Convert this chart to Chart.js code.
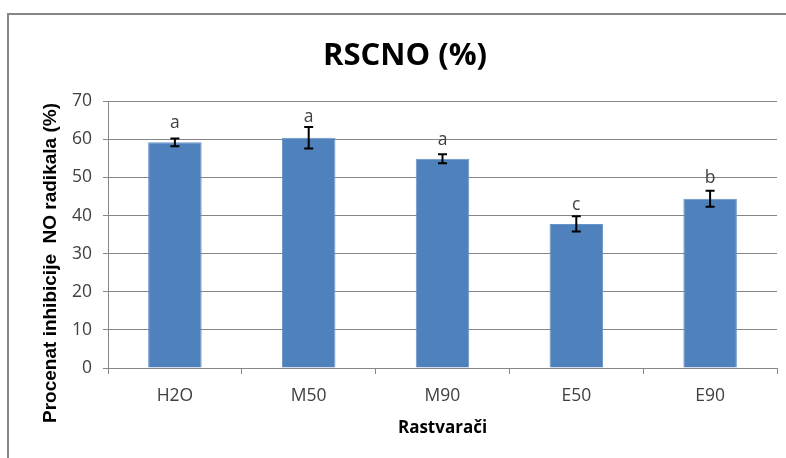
<!DOCTYPE html>
<html>
<head>
<meta charset="utf-8">
<script src="https://cdn.jsdelivr.net/npm/chart.js@4.4.0/dist/chart.umd.min.js"></script>
<style>
  html, body { margin: 0; padding: 0; background: #fff; }
</style>
</head>
<body>
<canvas id="chart" width="786" height="458"></canvas>
<script>
const categories = ['H2O', 'M50', 'M90', 'E50', 'E90'];
const inhibition = [59.2, 60.4, 54.9, 37.8, 44.4];
const errors = [1.0, 2.8, 1.2, 2.0, 2.1];
const groupLetters = ['a', 'a', 'a', 'c', 'b'];
const letterLevels = [63.0, 64.5, 58.5, 41.5, 48.5];
const yTicks = [0, 10, 20, 30, 40, 50, 60, 70];

const GRID = '#868686';
const TEXT = '#404040';
const BODY_FONT = '"Open Sans", sans-serif';

// gray frame around the whole chart (right and bottom sides fall outside the picture)
const framePlugin = {
  id: 'frame',
  beforeDraw(chart) {
    const ctx = chart.ctx;
    ctx.save();
    ctx.strokeStyle = GRID;
    ctx.lineWidth = 2;
    ctx.strokeRect(8, 14, chart.width + 20, chart.height + 20);
    ctx.restore();
  }
};

const errorBarPlugin = {
  id: 'errorBars',
  afterDatasetsDraw(chart) {
    const ctx = chart.ctx;
    const y = chart.scales.y;
    const bars = chart.getDatasetMeta(0).data;
    ctx.save();
    ctx.strokeStyle = '#000';
    ctx.lineWidth = 2;
    bars.forEach((bar, i) => {
      const top = y.getPixelForValue(inhibition[i] + errors[i]);
      const bot = y.getPixelForValue(inhibition[i] - errors[i]);
      ctx.beginPath();
      ctx.moveTo(bar.x, top); ctx.lineTo(bar.x, bot);
      ctx.moveTo(bar.x - 4.5, top); ctx.lineTo(bar.x + 4.5, top);
      ctx.moveTo(bar.x - 4.5, bot); ctx.lineTo(bar.x + 4.5, bot);
      ctx.stroke();
    });
    // significance letters
    ctx.fillStyle = TEXT;
    ctx.font = '17.5px ' + BODY_FONT;
    ctx.textAlign = 'center';
    ctx.textBaseline = 'alphabetic';
    bars.forEach((bar, i) => {
      ctx.fillText(groupLetters[i], bar.x, y.getPixelForValue(letterLevels[i]));
    });
    ctx.restore();
  }
};

// y axis title sits lower than the plot middle in the original, so it is drawn here
const yTitlePlugin = {
  id: 'yTitle',
  afterDraw(chart) {
    const ctx = chart.ctx;
    ctx.save();
    ctx.translate(51, 263);
    ctx.rotate(-Math.PI / 2);
    ctx.fillStyle = '#000';
    ctx.font = 'bold 19px "Liberation Sans", Arial, sans-serif';
    ctx.textAlign = 'center';
    ctx.textBaseline = 'middle';
    ctx.fillText('Procenat inhibicije  NO radikala (%)', 0, 0);
    ctx.restore();
  }
};

new Chart(document.getElementById('chart'), {
  type: 'bar',
  data: {
    labels: categories,
    datasets: [{
      data: inhibition,
      backgroundColor: '#4F81BD',
      borderColor: '#6A94C8',
      borderWidth: 1,
      categoryPercentage: 1,
      barPercentage: 0.4
    }]
  },
  options: {
    responsive: false,
    animation: false,
    // left padding shifts the centred title right, y axis width below compensates
    layout: { padding: { left: 33, right: 9, top: 0, bottom: 0 } },
    plugins: {
      legend: { display: false },
      tooltip: { enabled: false },
      title: {
        display: true,
        text: 'RSCNO (%)',
        color: '#000',
        font: { family: BODY_FONT, size: 31, weight: 'bold', lineHeight: 1.2 },
        padding: { top: 38, bottom: 26 }
      }
    },
    scales: {
      x: {
        afterFit: s => { s.height = 90; },
        grid: { offset: true, drawOnChartArea: false, drawTicks: true, tickLength: 6, color: GRID, lineWidth: 1 },
        border: { display: true, color: GRID, width: 1 },
        ticks: { color: TEXT, padding: 12, font: { family: BODY_FONT, size: 17.5 } },
        title: {
          display: true,
          text: 'Rastvarači',
          color: '#000',
          font: { family: BODY_FONT, size: 17, weight: 'bold', lineHeight: 1.2 },
          padding: { top: 0, bottom: 20 }
        }
      },
      y: {
        min: 0,
        max: 70,
        afterFit: s => { s.width = 75; },
        afterBuildTicks: s => { s.ticks = yTicks.map(v => ({ value: v })); },
        grid: { drawTicks: true, tickLength: 5, color: GRID, lineWidth: 1 },
        border: { display: true, color: GRID, width: 1 },
        ticks: { color: TEXT, padding: 11, font: { family: BODY_FONT, size: 17.5 } }
      }
    }
  },
  plugins: [framePlugin, errorBarPlugin, yTitlePlugin]
});
</script>
</body>
</html>
